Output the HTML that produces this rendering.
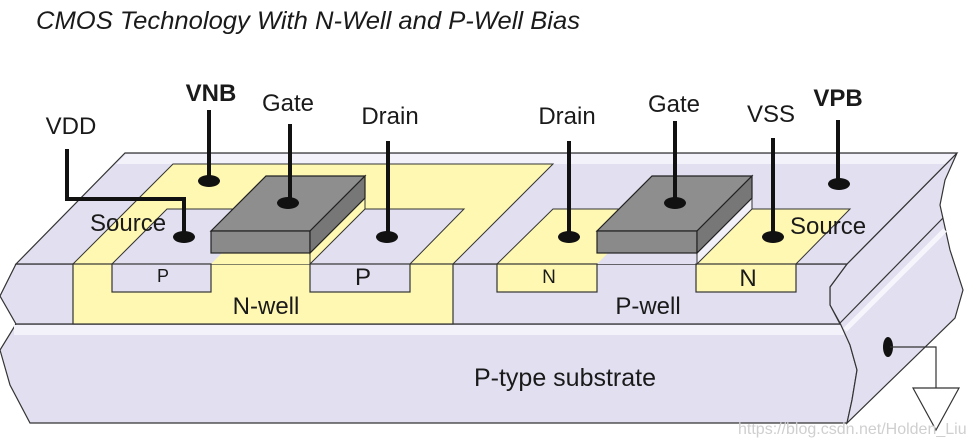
<!DOCTYPE html>
<html><head><meta charset="utf-8"><style>
html,body{margin:0;padding:0;background:#fff;}
svg{display:block;}
text{font-family:"Liberation Sans",Arial,sans-serif;fill:#1a1a1a;}
</style></head><body>
<svg width="973" height="446" viewBox="0 0 973 446" xmlns="http://www.w3.org/2000/svg">
<text x="36" y="29" font-size="25" font-style="italic" fill="#000" textLength="544" lengthAdjust="spacingAndGlyphs">CMOS Technology With N-Well and P-Well Bias</text>

<!-- substrate front -->
<polygon points="16,324 842,324 850,345 857,370 852,400 847,423 30,423 10,385 0,350" fill="#e2dff0" stroke="#333" stroke-width="1.2"/>
<rect x="14" y="325" width="830" height="10" fill="#f3f1f9"/>
<!-- right end face -->
<polygon points="847,264 957,153 945,180 940,205 950,250 963,290 955,318 847,423 852,400 857,370 850,345 840,323 830,305 830,287" fill="#e2dff0" stroke="#333" stroke-width="1.2"/>
<line x1="840" y1="323" x2="943" y2="218" stroke="#333" stroke-width="1.2"/>
<line x1="845" y1="330" x2="945" y2="230" stroke="#f6f5fb" stroke-width="5"/>
<!-- front face of wells -->
<polygon points="16,264 847,264 830,287 830,305 840,324 16,324 0,296" fill="#e2dff0" stroke="#333" stroke-width="1.2"/>
<!-- top face -->
<polygon points="125,153 957,153 847,264 16,264" fill="#e2dff0" stroke="#333" stroke-width="1.2"/>
<polygon points="126,154 955,154 945,164 116,164" fill="#f3f1f9"/>

<!-- N-well -->
<polygon points="173,164 553,164 453,264 73,264" fill="#fff8b2" stroke="#333" stroke-width="1"/>
<rect x="73" y="264" width="380" height="60" fill="#fff8b2" stroke="#333" stroke-width="1.2"/>
<!-- P diffusion top -->
<polygon points="167,209 464,209 410,264 112,264" fill="#e2dff0" stroke="#333" stroke-width="1"/>
<polygon points="211,264 310,264 365,209 266,209" fill="#fff8b2"/>
<rect x="112" y="264" width="99" height="28" fill="#e2dff0" stroke="#333" stroke-width="1.2"/>
<rect x="310" y="264" width="100" height="28" fill="#e2dff0" stroke="#333" stroke-width="1.2"/>
<!-- PMOS gate -->
<polygon points="310,253 365,198 365,209 310,264" fill="#fff8b2" stroke="#333" stroke-width="1"/>
<polygon points="266,176 365,176 310,231 211,231" fill="#8e8e8e" stroke="#222" stroke-width="1.2"/>
<rect x="211" y="231" width="99" height="22" fill="#8a8a8a" stroke="#222" stroke-width="1.2"/>
<polygon points="310,231 365,176 365,198 310,253" fill="#777" stroke="#222" stroke-width="1.2"/>

<!-- NMOS diffusion -->
<polygon points="553,209 850,209 796,264 497,264" fill="#fff8b2" stroke="#333" stroke-width="1"/>
<polygon points="597,264 697,264 752,209 652,209" fill="#e2dff0"/>
<rect x="497" y="264" width="100" height="28" fill="#fff8b2" stroke="#333" stroke-width="1.2"/>
<rect x="696" y="264" width="100" height="28" fill="#fff8b2" stroke="#333" stroke-width="1.2"/>
<polygon points="697,253 752,198 752,209 697,264" fill="#f2f0f8" stroke="#333" stroke-width="1"/>
<polygon points="652,176 752,176 697,231 597,231" fill="#8e8e8e" stroke="#222" stroke-width="1.2"/>
<rect x="597" y="231" width="100" height="22" fill="#8a8a8a" stroke="#222" stroke-width="1.2"/>
<polygon points="697,231 752,176 752,198 697,253" fill="#777" stroke="#222" stroke-width="1.2"/>

<!-- contacts -->
<g stroke="#111" stroke-width="4" fill="none">
<line x1="209" y1="110" x2="209" y2="181"/>
<line x1="290" y1="124" x2="290" y2="203"/>
<line x1="388" y1="141" x2="388" y2="237"/>
<polyline points="67,149 67,199 184,199 184,237"/>
<line x1="569" y1="141" x2="569" y2="237"/>
<line x1="675" y1="121" x2="675" y2="203"/>
<line x1="773" y1="138" x2="773" y2="237"/>
<line x1="838" y1="120" x2="838" y2="183"/>
</g>
<g fill="#111">
<ellipse cx="209" cy="181" rx="11" ry="6"/>
<ellipse cx="288" cy="203" rx="11" ry="6"/>
<ellipse cx="387" cy="237" rx="11" ry="6"/>
<ellipse cx="184" cy="237" rx="11" ry="6"/>
<ellipse cx="569" cy="237" rx="11" ry="6"/>
<ellipse cx="675" cy="203" rx="11" ry="6"/>
<ellipse cx="773" cy="237" rx="11" ry="6"/>
<ellipse cx="839" cy="184" rx="11" ry="6"/>
<ellipse cx="888" cy="347" rx="5" ry="10"/>
</g>
<polyline points="890,347 936,347 936,388" fill="none" stroke="#333" stroke-width="1.2"/>
<polygon points="913,388 959,388 936,430" fill="#fff" stroke="#333" stroke-width="1.2"/>

<!-- labels -->
<g font-size="24">
<text x="211" y="101" text-anchor="middle" font-weight="bold">VNB</text>
<text x="288" y="111" text-anchor="middle">Gate</text>
<text x="71" y="134" text-anchor="middle">VDD</text>
<text x="390" y="124" text-anchor="middle">Drain</text>
<text x="567" y="124" text-anchor="middle">Drain</text>
<text x="674" y="112" text-anchor="middle">Gate</text>
<text x="771" y="122" text-anchor="middle">VSS</text>
<text x="838" y="106" text-anchor="middle" font-weight="bold">VPB</text>
<text x="90" y="231">Source</text>
<text x="790" y="234">Source</text>
<text x="266" y="314" text-anchor="middle">N-well</text>
<text x="648" y="314" text-anchor="middle">P-well</text>
<text x="565" y="386" text-anchor="middle" font-size="25">P-type substrate</text>
<text x="363" y="285" text-anchor="middle">P</text>
<text x="748" y="286" text-anchor="middle">N</text>
</g>
<text x="163" y="282" text-anchor="middle" font-size="18">P</text>
<text x="549" y="283" text-anchor="middle" font-size="19">N</text>
<text x="738" y="434" font-size="16" style="fill:#cfcfcf">https://blog.csdn.net/Holden_Liu</text>
</svg>
</body></html>
